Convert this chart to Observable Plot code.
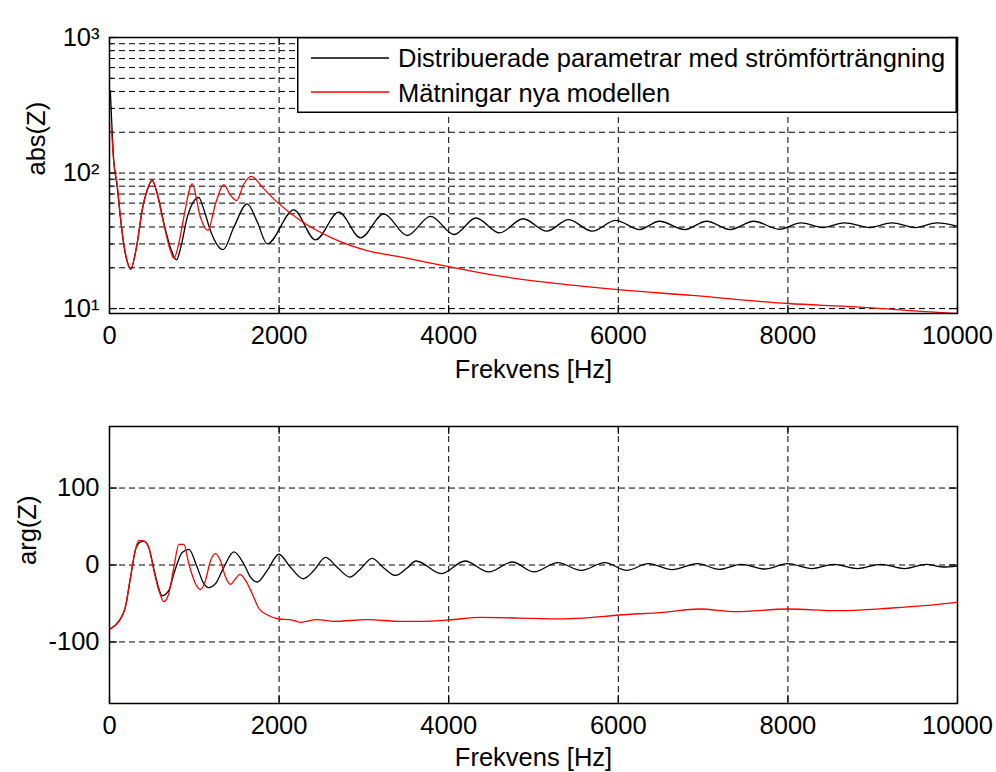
<!DOCTYPE html>
<html><head><meta charset="utf-8">
<script src="https://cdn.jsdelivr.net/npm/d3@7"></script>
<script src="https://cdn.jsdelivr.net/npm/@observablehq/plot@0.6"></script>
<style>
body{margin:0;background:#fff;}
#wrap{position:relative;width:996px;height:772px;background:#fff;}
#top,#bot,#legend{position:absolute;}
#top{left:0;top:0}
#bot{left:0;top:390px}
#legend{left:297px;top:37px}
svg text{font-family:"Liberation Sans",Arial,sans-serif;}
</style></head><body>
<div id="wrap"><div id="top"></div><div id="bot"></div><div id="legend"></div></div>
<script>
// ---- data ----
const seriesNames = ["Distribuerade parametrar med strömförträngning", "Mätningar nya modellen"];
const seriesColors = ["black", "red"];
const xLabel = "Frekvens [Hz]";
const yLabelAbs = "abs(Z)";
const yLabelArg = "arg(Z)";

const xTicks = [0, 2000, 4000, 6000, 8000, 10000];
const xGrid = [2000, 4000, 6000, 8000];
const absMajor = [10, 100, 1000];
const absMajorLabels = ["10¹", "10²", "10³"];
const absMinor = [20, 30, 40, 50, 60, 70, 80, 90, 200, 300, 400, 500, 600, 700, 800, 900];
const argTicks = [-100, 0, 100];

// abs(Z), distributed parameters (black)
const absFreqDist = [10, 50, 90, 130, 170, 210, 250, 325, 385, 445, 503, 560, 640, 720, 790, 850, 916, 1053, 1120, 1190, 1340, 1466, 1624, 1740, 1860, 2173, 2429, 2704, 2960, 3235, 3510, 3786, 4064, 4321, 4600, 4878, 5156, 5413, 5692, 5970, 6249, 6484, 6784, 7041, 7319, 7598, 7898, 8155, 8411, 8668, 8968, 9225, 9503, 9760, 10000];
const absDist = [406, 125, 80, 46, 29, 22, 19.5, 30, 53, 75, 88, 72, 43, 28, 22.9, 30, 47, 66, 52, 37.7, 27.2, 39.8, 59.3, 44, 30, 53.5, 32.1, 51.4, 33.3, 50, 34.6, 47.9, 35.2, 46.6, 36.2, 46, 37.3, 45.3, 37.3, 44.8, 38.3, 44.1, 38.3, 44.1, 38.3, 44.1, 38.5, 42.9, 39.6, 42.9, 39.6, 42.9, 39.6, 42.9, 40.5];

// abs(Z), measurements (red)
const absFreqMeas = [20, 50, 90, 130, 169, 208, 248, 325, 384, 443, 503, 561, 640, 718, 759, 830, 876, 975, 1073, 1160, 1250, 1348, 1427, 1498, 1584, 1671, 1820, 1977, 2252, 2645, 3038, 3443, 3700, 4000, 4514, 5156, 6000, 6870, 8000, 8797, 9439, 9996];
const absMeas = [232, 120, 83, 47.2, 30, 22.6, 19.7, 30, 52.9, 74.3, 89, 70.3, 42.2, 26.8, 23.5, 33, 47, 83, 47, 37.7, 59.3, 82, 68.5, 62.7, 83, 94.6, 76.4, 61, 44.6, 32.7, 26.8, 24, 22.2, 20.4, 17.7, 15.6, 13.8, 12.5, 10.9, 10.3, 9.67, 9.2];

// arg(Z), distributed parameters (black)
const argFreqDist = [10, 110, 189, 248, 307, 365, 405, 464, 523, 580, 621, 700, 759, 857, 936, 1034, 1112, 1171, 1250, 1348, 1466, 1584, 1663, 1741, 1859, 1997, 2134, 2284, 2410, 2547, 2685, 2834, 2960, 3097, 3235, 3373, 3510, 3615, 3914, 4193, 4471, 4750, 5006, 5285, 5563, 5842, 6099, 6356, 6634, 6934, 7191, 7448, 7726, 7996, 8283, 8540, 8818, 9097, 9375, 9632, 9825, 10000];
const argDist = [-83, -73, -54, -16, 20, 30, 31, 22.6, -5, -30, -40, -33, -11.5, 16.2, 20.4, -3, -24.3, -29.4, -24.3, -3, 17, 1.3, -15.7, -22.1, -7.2, 14, -3, -17.9, -7.2, 9.8, -3, -15.7, -5.1, 8.5, -3.8, -13.6, -3.8, 5.2, -11.2, 5.2, -9, 3.9, -9, 3, -6.9, 3, -6.9, 1.7, -6, 1.7, -5.6, 0.9, -5.2, 1.7, -4.7, 0.9, -4.7, 0.9, -4.7, 0.9, -2.6, -1.3];

// arg(Z), measurements (red)
const argFreqMeas = [10, 110, 189, 248, 307, 346, 405, 464, 523, 582, 641, 700, 759, 818, 877, 936, 1014, 1073, 1132, 1191, 1250, 1309, 1368, 1427, 1486, 1537, 1604, 1682, 1761, 1859, 1997, 2130, 2252, 2449, 2645, 3038, 3432, 3667, 4000, 4385, 5285, 5585, 6013, 6527, 6955, 7384, 8000, 8583, 9225, 9611, 9996];
const argMeas = [-83, -73.2, -54, -15.7, 20.4, 31.9, 31.1, 22.6, -7.2, -32.8, -47.7, -37, -3, 26.8, 26.8, 1.3, -24.3, -31.9, -20, 5.5, 14.9, 5.5, -15.7, -25.1, -17.9, -12.3, -20, -37, -56.2, -64.7, -70.2, -71, -74.5, -71, -73.2, -71, -73.2, -73.2, -71.4, -68, -70, -69, -65, -61.5, -57.2, -60.6, -57.2, -59.4, -55.9, -52.9, -48.6];

// ---- build ----
const rows = (fs, vs) => fs.map((f, i) => ({f, v: vs[i]}));
const W = 996, ML = 109, MR = 39, PW = W - ML - MR;
const font = "'Liberation Sans', Arial, sans-serif";
const FS = "25.5px";
const fmt = d => String(d);
const grid = {stroke: "black", strokeWidth: 1, strokeDasharray: "6,4"};

function inwardTicks(yMajor, yMinor, PH) {
  const m = [];
  m.push(Plot.tickY(yMajor, {y: d => d, insetRight: PW - 8, strokeWidth: 1.2}));
  m.push(Plot.tickY(yMajor, {y: d => d, insetLeft: PW - 8, strokeWidth: 1.2}));
  if (yMinor.length) {
    m.push(Plot.tickY(yMinor, {y: d => d, insetRight: PW - 4, strokeWidth: 1}));
    m.push(Plot.tickY(yMinor, {y: d => d, insetLeft: PW - 4, strokeWidth: 1}));
  }
  m.push(Plot.tickX(xTicks, {x: d => d, insetTop: PH - 8, strokeWidth: 1.2}));
  m.push(Plot.tickX(xTicks, {x: d => d, insetBottom: PH - 8, strokeWidth: 1.2}));
  return m;
}

const topH = 390, topMT = 37, topMB = 77;
const topPlot = Plot.plot({
  width: W, height: topH, marginTop: topMT, marginBottom: topMB, marginLeft: ML, marginRight: MR,
  style: {fontSize: FS, fontFamily: font, color: "black", background: "white", overflow: "visible"},
  x: {domain: [0, 10000], axis: null, label: null},
  y: {type: "log", domain: [9.2, 1000], axis: null, label: null},
  marks: [
    Plot.ruleX(xGrid, {x: d => d, ...grid}),
    Plot.ruleY([...absMajor, ...absMinor], {y: d => d, ...grid}),
    ...inwardTicks(absMajor, absMinor, topH - topMT - topMB),
    Plot.line(rows(absFreqDist, absDist), {x: "f", y: "v", stroke: seriesColors[0], strokeWidth: 1.3, curve: "monotone-x", clip: true}),
    Plot.line(rows(absFreqMeas, absMeas), {x: "f", y: "v", stroke: seriesColors[1], strokeWidth: 1.3, curve: "monotone-x", clip: true}),
    Plot.frame({stroke: "black", strokeWidth: 1.5}),
    Plot.axisX(xTicks, {tickSize: 0, tickPadding: 12, tickFormat: fmt, label: null}),
    Plot.axisY(absMajor, {tickSize: 0, tickPadding: 10, tickFormat: d => absMajorLabels[absMajor.indexOf(d)], label: null}),
    Plot.text([xLabel], {text: d => d, frameAnchor: "bottom", dy: 64, lineAnchor: "bottom"}),
    Plot.text([yLabelAbs], {text: d => d, frameAnchor: "left", dx: -73, rotate: -90})
  ]
});
document.getElementById("top").appendChild(topPlot);

const botH = 382, botMT = 36, botMB = 69;
const botPlot = Plot.plot({
  width: W, height: botH, marginTop: botMT, marginBottom: botMB, marginLeft: ML, marginRight: MR,
  style: {fontSize: FS, fontFamily: font, color: "black", background: "white", overflow: "visible"},
  x: {domain: [0, 10000], axis: null, label: null},
  y: {domain: [-180, 180], axis: null, label: null},
  marks: [
    Plot.ruleX(xGrid, {x: d => d, ...grid}),
    Plot.ruleY(argTicks, {y: d => d, ...grid}),
    ...inwardTicks(argTicks, [], botH - botMT - botMB),
    Plot.line(rows(argFreqDist, argDist), {x: "f", y: "v", stroke: seriesColors[0], strokeWidth: 1.3, curve: "monotone-x", clip: true}),
    Plot.line(rows(argFreqMeas, argMeas), {x: "f", y: "v", stroke: seriesColors[1], strokeWidth: 1.3, curve: "monotone-x", clip: true}),
    Plot.frame({stroke: "black", strokeWidth: 1.5}),
    Plot.axisX(xTicks, {tickSize: 0, tickPadding: 12, tickFormat: fmt, label: null}),
    Plot.axisY(argTicks, {tickSize: 0, tickPadding: 10, tickFormat: fmt, label: null}),
    Plot.text([xLabel], {text: d => d, frameAnchor: "bottom", dy: 62, lineAnchor: "bottom"}),
    Plot.text([yLabelArg], {text: d => d, frameAnchor: "left", dx: -82, rotate: -90})
  ]
});
document.getElementById("bot").appendChild(botPlot);

// legend
const ns = "http://www.w3.org/2000/svg";
const lg = document.createElementNS(ns, "svg");
lg.setAttribute("width", 660); lg.setAttribute("height", 76);
const rect = document.createElementNS(ns, "rect");
rect.setAttribute("x", 0.75); rect.setAttribute("y", 0.75);
rect.setAttribute("width", 658.5); rect.setAttribute("height", 74.5);
rect.setAttribute("fill", "white"); rect.setAttribute("stroke", "black"); rect.setAttribute("stroke-width", 1.5);
lg.appendChild(rect);
const rowY = [21, 55], rowBase = [30, 65];
seriesNames.forEach((name, i) => {
  const ln = document.createElementNS(ns, "line");
  ln.setAttribute("x1", 14); ln.setAttribute("x2", 92);
  ln.setAttribute("y1", rowY[i]); ln.setAttribute("y2", rowY[i]);
  ln.setAttribute("stroke", seriesColors[i]); ln.setAttribute("stroke-width", 1.3);
  lg.appendChild(ln);
  const t = document.createElementNS(ns, "text");
  t.setAttribute("x", 101); t.setAttribute("y", rowBase[i]);
  t.setAttribute("font-size", 25.5); t.setAttribute("fill", "black");
  t.textContent = name;
  lg.appendChild(t);
});
document.getElementById("legend").appendChild(lg);
</script>
</body></html>
